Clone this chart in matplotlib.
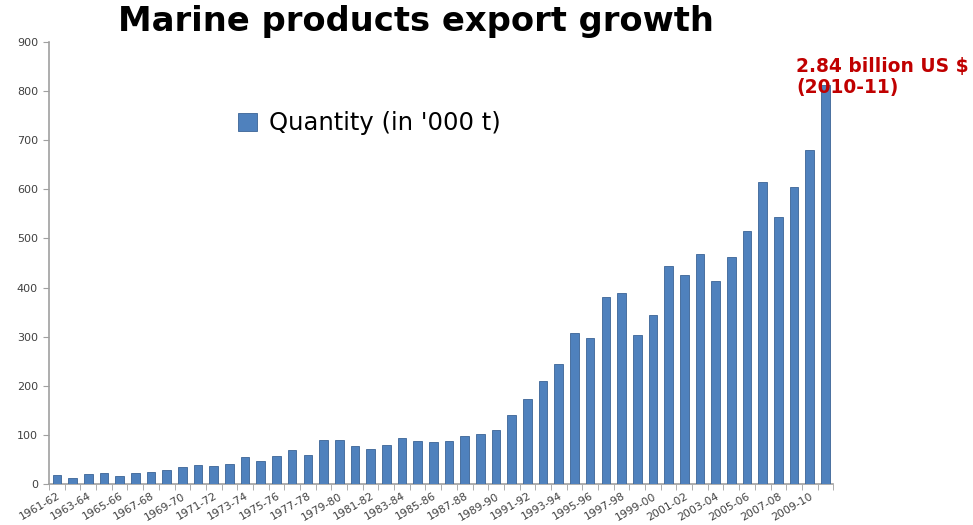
import matplotlib
matplotlib.use("Agg")
import matplotlib.pyplot as plt
import numpy as np

years = [f"{y}-{str(y+1)[-2:]}" for y in range(1961, 2011)]
quantity = [18, 13, 21, 23, 17, 23, 24, 29, 35, 38,
            37, 41, 55, 47, 57, 69, 59, 89, 89, 78,
            72, 80, 94, 87, 85, 87, 98, 101, 111, 140,
            173, 210, 245, 307, 297, 380, 388, 304, 345, 443,
            426, 469, 414, 463, 515, 614, 544, 605, 680, 813]
yticks = [0, 100, 200, 300, 400, 500, 600, 700, 800, 900]

plt.rcParams["font.family"] = ["DejaVu Sans"]

fig = plt.figure(figsize=(9.73, 5.25), dpi=100)
ax = fig.add_axes([0.0504, 0.078, 0.806, 0.842])
x = np.arange(len(years))
ax.bar(x, quantity, width=0.55, color="#4F81BD", edgecolor="#3B6496", linewidth=0.6,
       label="Quantity (in '000 t)", zorder=3)
ax.set_xlim(-0.5, len(years) - 0.5)
ax.set_ylim(0, 900)
ax.set_yticks(yticks)
ax.set_yticklabels([str(v) for v in yticks], fontsize=8, color="#404040")
ax.set_xticks(x[::2])
ax.set_xticklabels(years[::2], rotation=30, ha="right", rotation_mode="anchor",
                   fontsize=7.8, color="#404040")
ax.set_xticks(np.arange(-0.5, len(years), 1), minor=True)
ax.tick_params(axis="x", which="major", length=0, pad=5)
ax.tick_params(axis="x", which="minor", length=4, color="#A0A0A0")
ax.tick_params(axis="y", length=4, color="#A0A0A0", pad=4)
for s in ["top", "right"]:
    ax.spines[s].set_visible(False)
for s in ["left", "bottom"]:
    ax.spines[s].set_color("#A0A0A0")
    ax.spines[s].set_linewidth(1.2)

fig.text(0.427, 0.96, "Marine products export growth", ha="center", va="center",
         fontsize=24.3, fontweight="bold", color="black")
leg = fig.legend(loc="center left", bbox_to_anchor=(0.222, 0.765), frameon=False,
                 fontsize=17.5, handlelength=0.8, handleheight=0.8, handletextpad=0.5)
fig.text(0.818, 0.853, "2.84 billion US $\n(2010-11)", ha="left", va="center",
         fontsize=13.4, fontweight="bold", color="#C00000", linespacing=1.1)

fig.savefig("out.png", dpi=100)
